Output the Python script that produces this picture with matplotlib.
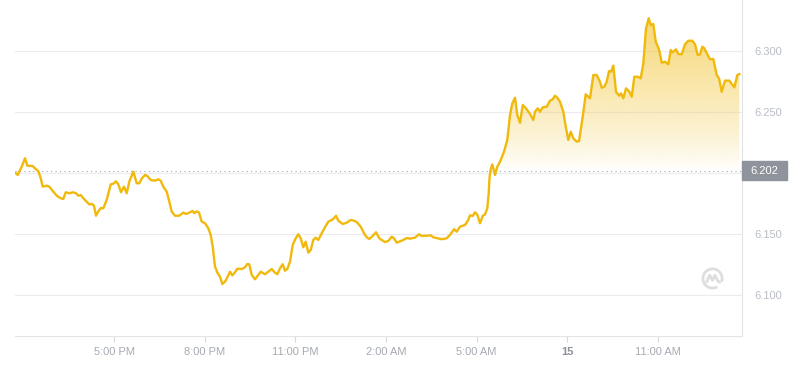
import numpy as np
import matplotlib
matplotlib.use('Agg')
import matplotlib.pyplot as plt
from matplotlib.path import Path
from matplotlib.patches import Rectangle, Arc
from matplotlib.colors import to_rgb
from matplotlib.transforms import blended_transform_factory

# hours since midnight of the 14th, price
hours = [13.747, 13.813, 13.946, 14.055, 14.131, 14.310, 14.419, 14.495, 14.574, 14.641,
         14.773, 14.859, 14.991, 15.104, 15.236, 15.322, 15.402, 15.511, 15.653, 15.743,
         15.819, 15.898, 15.984, 16.116, 16.183, 16.272, 16.338, 16.404, 16.494, 16.570,
         16.646, 16.758, 16.891, 16.977, 17.066, 17.142, 17.232, 17.331, 17.420, 17.506,
         17.639, 17.751, 17.837, 17.927, 18.026, 18.102, 18.214, 18.357, 18.466, 18.545,
         18.631, 18.744, 18.830, 18.909, 19.018, 19.161, 19.293, 19.382, 19.492, 19.604,
         19.657, 19.737, 19.813, 19.902, 20.011, 20.120, 20.200, 20.266, 20.342, 20.431,
         20.508, 20.584, 20.673, 20.762, 20.838, 20.915, 21.004, 21.080, 21.226, 21.335,
         21.411, 21.477, 21.557, 21.666, 21.775, 21.854, 21.997, 22.106, 22.218, 22.327,
         22.404, 22.493, 22.582, 22.658, 22.734, 22.824, 22.913, 23.012, 23.099, 23.178,
         23.264, 23.343, 23.430, 23.509, 23.595, 23.674, 23.760, 23.873, 23.982, 24.091,
         24.204, 24.280, 24.346, 24.422, 24.568, 24.700, 24.832, 24.952, 25.051, 25.163,
         25.273, 25.362, 25.448, 25.560, 25.670, 25.779, 25.858, 25.967, 26.077, 26.189,
         26.265, 26.354, 26.464, 26.573, 26.686, 26.795, 26.960, 27.092, 27.182, 27.347,
         27.480, 27.566, 27.698, 27.844, 28.009, 28.118, 28.251, 28.340, 28.449, 28.614,
         28.724, 28.780, 28.869, 28.945, 29.022, 29.111, 29.200, 29.276, 29.353, 29.399,
         29.425, 29.458, 29.518, 29.607, 29.683, 29.773, 29.905, 30.014, 30.104, 30.180,
         30.269, 30.345, 30.435, 30.524, 30.633, 30.765, 30.875, 30.931, 31.020, 31.096,
         31.186, 31.318, 31.427, 31.516, 31.593, 31.669, 31.758, 31.867, 31.947, 32.033,
         32.112, 32.198, 32.311, 32.387, 32.509, 32.609, 32.751, 32.860, 32.972, 33.082,
         33.138, 33.224, 33.303, 33.380, 33.446, 33.522, 33.611, 33.710, 33.777, 33.853,
         33.942, 34.051, 34.131, 34.217, 34.329, 34.429, 34.515, 34.604, 34.693, 34.759,
         34.845, 34.925, 35.034, 35.123, 35.233, 35.342, 35.421, 35.487, 35.597, 35.673,
         35.785, 35.894, 36.004, 36.136, 36.225, 36.315, 36.391, 36.467, 36.533, 36.632,
         36.722, 36.831, 36.943, 37.019, 37.109, 37.218, 37.360, 37.526, 37.625, 37.691]
prices = [6.1998, 6.1984, 6.2052, 6.2121, 6.2060, 6.2057, 6.2030, 6.2016, 6.1959, 6.1888,
          6.1896, 6.1888, 6.1847, 6.1814, 6.1793, 6.1787, 6.1842, 6.1834, 6.1842, 6.1834,
          6.1814, 6.1820, 6.1793, 6.1760, 6.1743, 6.1746, 6.1732, 6.1650, 6.1691, 6.1713,
          6.1711, 6.1779, 6.1907, 6.1912, 6.1932, 6.1907, 6.1842, 6.1888, 6.1834, 6.1929,
          6.2011, 6.1916, 6.1916, 6.1957, 6.1984, 6.1975, 6.1943, 6.1937, 6.1948, 6.1937,
          6.1888, 6.1847, 6.1765, 6.1683, 6.1650, 6.1650, 6.1675, 6.1664, 6.1675, 6.1689,
          6.1670, 6.1686, 6.1675, 6.1601, 6.1588, 6.1547, 6.1492, 6.1396, 6.1232, 6.1178,
          6.1150, 6.1090, 6.1109, 6.1150, 6.1191, 6.1161, 6.1186, 6.1215, 6.1213, 6.1227,
          6.1254, 6.1251, 6.1164, 6.1129, 6.1164, 6.1191, 6.1170, 6.1191, 6.1213, 6.1183,
          6.1170, 6.1219, 6.1252, 6.1199, 6.1213, 6.1273, 6.1410, 6.1465, 6.1498, 6.1465,
          6.1391, 6.1437, 6.1347, 6.1369, 6.1451, 6.1470, 6.1451, 6.1506, 6.1555, 6.1601,
          6.1615, 6.1629, 6.1650, 6.1609, 6.1582, 6.1593, 6.1615, 6.1609, 6.1593, 6.1560,
          6.1506, 6.1473, 6.1459, 6.1484, 6.1514, 6.1465, 6.1451, 6.1434, 6.1443, 6.1478,
          6.1465, 6.1429, 6.1440, 6.1451, 6.1467, 6.1462, 6.1470, 6.1498, 6.1484, 6.1486,
          6.1489, 6.1473, 6.1465, 6.1457, 6.1465, 6.1492, 6.1539, 6.1519, 6.1560, 6.1574,
          6.1615, 6.1653, 6.1648, 6.1678, 6.1658, 6.1588, 6.1648, 6.1661, 6.1711, 6.1834,
          6.1959, 6.2025, 6.2071, 6.1984, 6.2052, 6.2093, 6.2175, 6.2271, 6.2475, 6.2571,
          6.2617, 6.2475, 6.2412, 6.2557, 6.2530, 6.2484, 6.2434, 6.2502, 6.2530, 6.2502,
          6.2538, 6.2543, 6.2593, 6.2604, 6.2634, 6.2617, 6.2584, 6.2502, 6.2380, 6.2271,
          6.2339, 6.2284, 6.2257, 6.2262, 6.2461, 6.2645, 6.2612, 6.2803, 6.2803, 6.2748,
          6.2699, 6.2707, 6.2748, 6.2836, 6.2830, 6.2880, 6.2666, 6.2634, 6.2653, 6.2612,
          6.2694, 6.2666, 6.2625, 6.2789, 6.2789, 6.2776, 6.2899, 6.3186, 6.3268, 6.3213,
          6.3221, 6.3076, 6.3014, 6.2904, 6.2912, 6.2891, 6.3008, 6.2989, 6.3014, 6.2975,
          6.2973, 6.3055, 6.3084, 6.3084, 6.3055, 6.2967, 6.2973, 6.3035, 6.3022, 6.2973,
          6.2932, 6.2934, 6.2803, 6.2776, 6.2666, 6.2757, 6.2757, 6.2702, 6.2803, 6.2811]

ref_price = 6.202
grid_prices = [6.100, 6.150, 6.200, 6.250, 6.300]
label_prices = [6.100, 6.150, 6.250, 6.300]
tick_hours = [17, 20, 23, 26, 29, 32, 35]
tick_labels = ['5:00 PM', '8:00 PM', '11:00 PM', '2:00 AM', '5:00 AM', '15', '11:00 AM']

plt.rcParams['font.family'] = ['Liberation Sans', 'DejaVu Sans']

t = np.array(hours)
p = np.array(prices)
yellow = '#f0b90b'

fig = plt.figure(figsize=(8, 3.7), dpi=100)
ax = fig.add_axes([0.01875, 0.0919, 0.90875, 0.9081])

for g in grid_prices:
    ax.axhline(g, color='#ececf0', lw=0.8, zorder=0)

# gradient fill above the reference price
fill = ax.fill_between(t, p, ref_price, where=p >= ref_price, interpolate=True,
                       facecolor='none', edgecolor='none')
clip = Path.make_compound_path(*fill.get_paths())
rgba = np.zeros((256, 1, 4))
rgba[..., :3] = to_rgb(yellow)
rgba[:, 0, 3] = np.linspace(0, 1, 256) ** 0.8 * 0.55
im = ax.imshow(rgba, extent=[t[0], t[-1], ref_price, p.max()], origin='lower',
               aspect='auto', zorder=1, interpolation='bilinear')
im.set_clip_path(clip, ax.transData)

ax.axhline(ref_price, color='#a4a8af', lw=0.8, ls=(0, (1, 3)), zorder=2)
ax.plot(t, p, color=yellow, lw=1.7, zorder=3, solid_joinstyle='round')

ax.set_xlim(13.724, 37.78)
ax.set_ylim(6.0664, 6.3418)

for s in ['left', 'top']:
    ax.spines[s].set_visible(False)
for s in ['right', 'bottom']:
    ax.spines[s].set_color('#e4e4e8')
    ax.spines[s].set_linewidth(0.8)

ax.yaxis.tick_right()
ax.set_yticks(label_prices, ['%.3f' % v for v in label_prices])
ax.tick_params(axis='y', length=0, pad=9, labelsize=8, labelcolor='#b9bdc5')
ax.set_xticks(tick_hours, tick_labels)
ax.tick_params(axis='x', length=4, width=0.8, color='#d8d8dc', labelsize=8,
               labelcolor='#a6aab1', pad=4)
lbl = ax.get_xticklabels()[5]
lbl.set_fontweight('bold')
lbl.set_color('#8d9199')

# reference price tag
trans = blended_transform_factory(ax.transAxes, ax.transData)
ax.add_patch(Rectangle((1.0, ref_price - 0.0078), 0.062, 0.0156, transform=trans,
                       color='#8e939c', clip_on=False, zorder=5))
ax.text(1.031, ref_price, '%.3f' % ref_price, transform=trans, ha='center', va='center',
        color='white', fontsize=8, zorder=6)

# watermark logo
lg = fig.add_axes([701 / 800, (370 - 290) / 370, 23 / 800, 23 / 370])
lg.set_xlim(-1.2, 1.2)
lg.set_ylim(-1.2, 1.2)
lg.set_aspect('equal')
lg.axis('off')
lg.add_patch(Arc((0, 0), 2, 2, theta1=-20, theta2=300, color='#dedede', lw=2))
lg.plot([-0.6, -0.3, 0.0, 0.25, 0.55, 0.75], [-0.35, 0.35, -0.2, 0.35, -0.25, -0.4],
        color='#dedede', lw=2, solid_joinstyle='round', solid_capstyle='round')

fig.savefig('out.png', dpi=100)
